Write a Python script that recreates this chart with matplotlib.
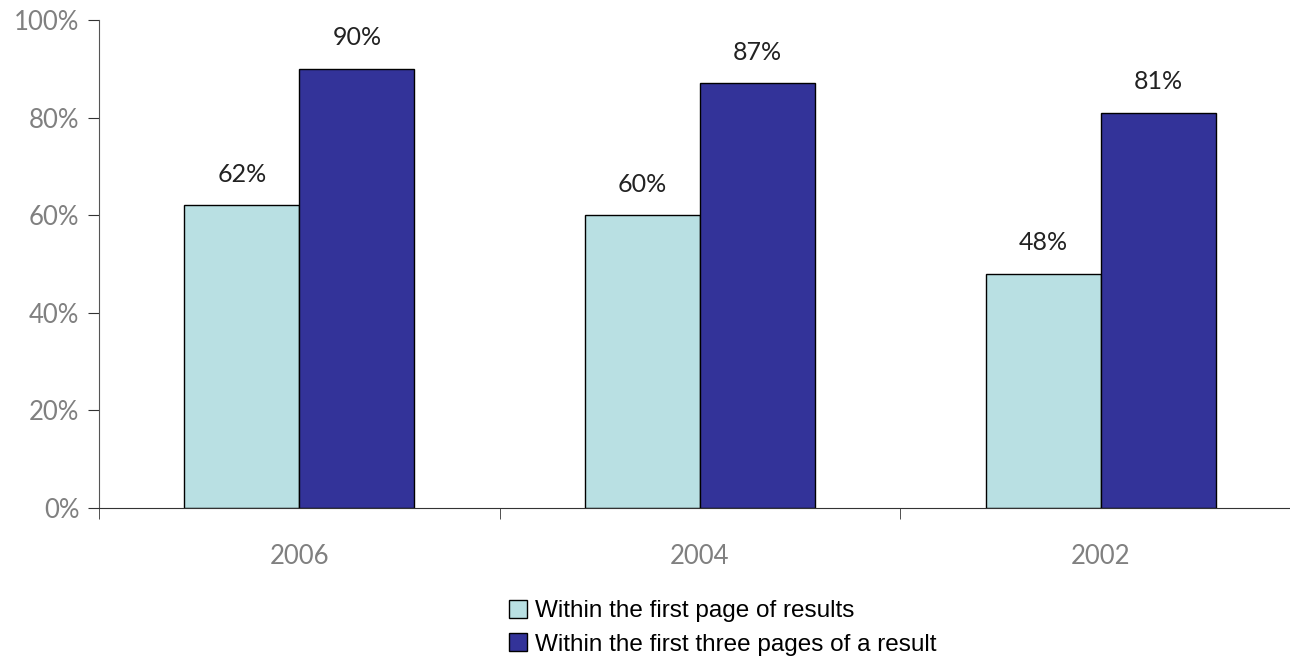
import matplotlib.pyplot as plt
import numpy as np
from matplotlib.patches import Patch

years = ["2006", "2004", "2002"]
first_page = [62, 60, 48]
first_three_pages = [90, 87, 81]
series_names = ["Within the first page of results", "Within the first three pages of a result"]

light = "#B9E0E3"
dark = "#333399"

fig = plt.figure(figsize=(12.9, 6.65), dpi=100)
ax = fig.add_axes([99 / 1290, 157 / 665, 1202 / 1290, 488 / 665])

x = np.arange(len(years))
w = 0.287
b1 = ax.bar(x - w / 2, first_page, w, color=light, edgecolor="black", linewidth=1)
b2 = ax.bar(x + w / 2, first_three_pages, w, color=dark, edgecolor="black", linewidth=1)

for bars, vals in [(b1, first_page), (b2, first_three_pages)]:
    for bar, v in zip(bars, vals):
        ax.annotate(str(v) + "%", (bar.get_x() + bar.get_width() / 2, v),
                    xytext=(0, 14), textcoords="offset points",
                    ha="center", va="bottom", fontsize=18, family="Lato",
                    color="#222222")

ax.set_xlim(-0.5, 2.5)
ax.set_ylim(0, 100)
ax.set_yticks(range(0, 101, 20))
ax.set_yticklabels([str(t) + "%" for t in range(0, 101, 20)])
ax.set_xticks(x)
ax.set_xticklabels(years)
ax.set_xticks([-0.5, 0.5, 1.5, 2.5], minor=True)
ax.tick_params(axis="x", which="major", length=0, pad=26)
ax.tick_params(axis="x", which="minor", length=8, direction="out", color="#333333")
ax.tick_params(axis="y", length=8, direction="out", color="#333333", pad=6)
for lab in ax.get_xticklabels() + ax.get_yticklabels():
    lab.set_fontsize(18.5)
    lab.set_family("Lato")
    lab.set_color("#808080")

ax.spines["top"].set_visible(False)
ax.spines["right"].set_visible(False)
ax.spines["left"].set_color("#555555")
ax.spines["bottom"].set_color("#333333")

handles = [Patch(facecolor=light, edgecolor="black"), Patch(facecolor=dark, edgecolor="black")]
fig.legend(handles, series_names, loc="upper left", bbox_to_anchor=(509 / 1290, 1 - 600 / 665),
           frameon=False, prop={"family": "Liberation Sans", "size": 17.5},
           handlelength=0.75, handleheight=0.75, handletextpad=0.3, labelspacing=0.45,
           borderaxespad=0, borderpad=0)

fig.savefig("out.png", dpi=100)
